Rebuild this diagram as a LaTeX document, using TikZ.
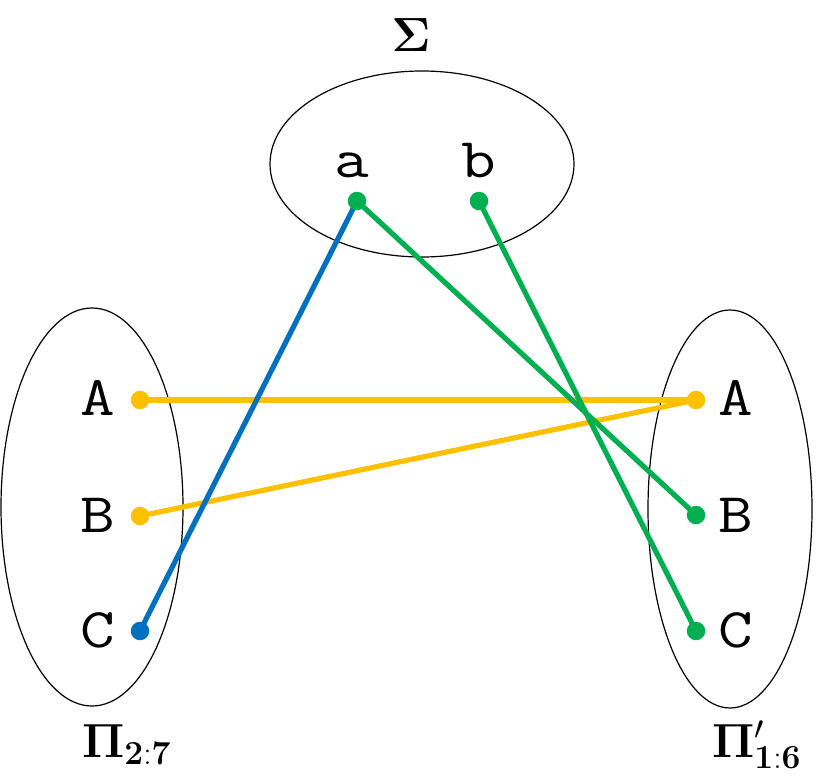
\RequirePackage{fix-cm}
\documentclass[tikz,border=0pt]{standalone}
\usepackage{amsmath}
\usepackage{graphicx}
\usepackage[no-math]{fontspec}
\definecolor{cyel}{HTML}{FFC000}
\definecolor{cgrn}{HTML}{00B050}
\definecolor{cblu}{HTML}{0070C0}
\newcommand{\wid}[1]{\scalebox{1.2}[1]{#1}}
\tikzset{
  setell/.style={draw=black, line width=1.2pt},
  dot/.style={circle, inner sep=0pt, minimum size=18.5pt},
  lbl/.style={font=\ttfamily\fontsize{56}{60}\selectfont, inner sep=0pt},
  setname/.style={font=\fontsize{48}{52}\selectfont, inner sep=0pt},
  conn/.style={line width=5.2pt},
}
\begin{document}
\begin{tikzpicture}[x=1pt,y=-1pt]
\useasboundingbox (0,0) rectangle (830,783);
% sets
\draw[setell] (422,164) ellipse [x radius=152, y radius=93];
\draw[setell] (92,507) ellipse [x radius=91, y radius=199];
\draw[setell] (730,509) ellipse [x radius=82, y radius=199];
% set names
\node[setname, anchor=base] (sig) at (411,52) {$\mathbf{\Sigma}$};
\node[setname, anchor=base west] (pl) at (82,757) {$\mathbf{\Pi}_{\mathbf{2:7}}$};
\node[setname, anchor=base west] (pr) at (712,757) {$\mathbf{\Pi}'_{\mathbf{1:6}}$};
% letters
\node[lbl, anchor=base] (ta) at (352,178) {\wid{a}};
\node[lbl, anchor=base] (tb) at (479,178) {\wid{b}};
\node[lbl, anchor=base] (tlA) at (98,416) {\wid{A}};
\node[lbl, anchor=base] (tlB) at (98,532) {\wid{B}};
\node[lbl, anchor=base] (tlC) at (98,647) {\wid{C}};
\node[lbl, anchor=base] (trA) at (736,416) {\wid{A}};
\node[lbl, anchor=base] (trB) at (736,532) {\wid{B}};
\node[lbl, anchor=base] (trC) at (736,647) {\wid{C}};
% dots positions
\coordinate (a) at (357,201);
\coordinate (b) at (479,201);
\coordinate (lA) at (140,400);
\coordinate (lB) at (140,516);
\coordinate (lC) at (140,631);
\coordinate (rA) at (696,400);
\coordinate (rB) at (696,515);
\coordinate (rC) at (696,631);
% connectors
\draw[conn, cyel] (lA) -- (rA);
\draw[conn, cyel] (lB) -- (rA);
\draw[conn, cblu] (a) -- (lC);
\draw[conn, cgrn] (a) -- (rB);
\draw[conn, cgrn] (b) -- (rC);
% dots
\node[dot, fill=cyel] (dlA) at (lA) {};
\node[dot, fill=cyel] (dlB) at (lB) {};
\node[dot, fill=cblu] (dlC) at (lC) {};
\node[dot, fill=cyel] (drA) at (rA) {};
\node[dot, fill=cgrn] (drB) at (rB) {};
\node[dot, fill=cgrn] (drC) at (rC) {};
\node[dot, fill=cgrn] (da) at (a) {};
\node[dot, fill=cgrn] (db) at (b) {};
\end{tikzpicture}
\end{document}
